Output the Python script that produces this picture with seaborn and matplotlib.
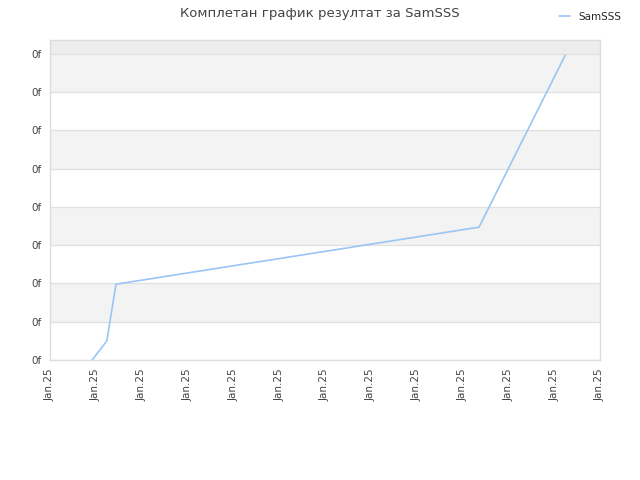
import pandas as pd
import numpy as np
import matplotlib
matplotlib.use('Agg')
import matplotlib.pyplot as plt
import seaborn as sns

# -- data --
x_vals = [0.92, 1.24, 1.44, 9.36, 11.24]
y_vals = [0.0, 0.5, 1.98, 3.47, 7.96]
x_ticks = list(range(13))
x_labels = ['Jan.25'] * 13
y_ticks = list(range(9))
y_labels = ['0f'] * 9

df = pd.DataFrame({'x': x_vals, 'y': y_vals, 'player': 'SamSSS'})

sns.set_style('white')
plt.rcParams['font.family'] = ['DejaVu Sans']

fig = plt.figure(figsize=(6.4, 4.8), dpi=100)
ax = fig.add_axes([50 / 640, 1 - 360 / 480, 550 / 640, 320 / 480])

# alternating bands
for lo in [1, 3, 5, 7]:
    ax.axhspan(lo, lo + 1, color='#f3f3f3', zorder=0, lw=0)
ax.axhspan(8, 8.4, color='#ededed', zorder=0, lw=0)
for t in y_ticks:
    ax.axhline(t, color='#e0e0e0', lw=0.9, zorder=1)

sns.lineplot(data=df, x='x', y='y', hue='player', palette=['#99c6f5'],
             lw=1.2, ax=ax, legend=False, zorder=3)

ax.set_xlim(0, 12)
ax.set_ylim(0, 8.36)
ax.set_xticks(x_ticks)
ax.set_xticklabels(x_labels, rotation=90, fontsize=7.5, color='#444444')
ax.set_yticks(y_ticks)
ax.set_yticklabels(y_labels, fontsize=7.5, color='#444444')
ax.tick_params(length=0, pad=6)
ax.set_xlabel('')
ax.set_ylabel('')
for s in ax.spines.values():
    s.set_color('#dddddd')
    s.set_linewidth(1)

fig.text(0.5, 1 - 13 / 480, 'Комплетан график резултат за SamSSS',
         ha='center', va='center', fontsize=9.5, color='#444444')
handle = plt.Line2D([], [], color='#99c6f5', lw=1.2)
fig.legend([handle], ['SamSSS'], loc='upper right', bbox_to_anchor=(0.985, 0.995),
           frameon=False, fontsize=7.5, handlelength=1.0, handletextpad=0.8)

plt.savefig('out.png', dpi=100)
